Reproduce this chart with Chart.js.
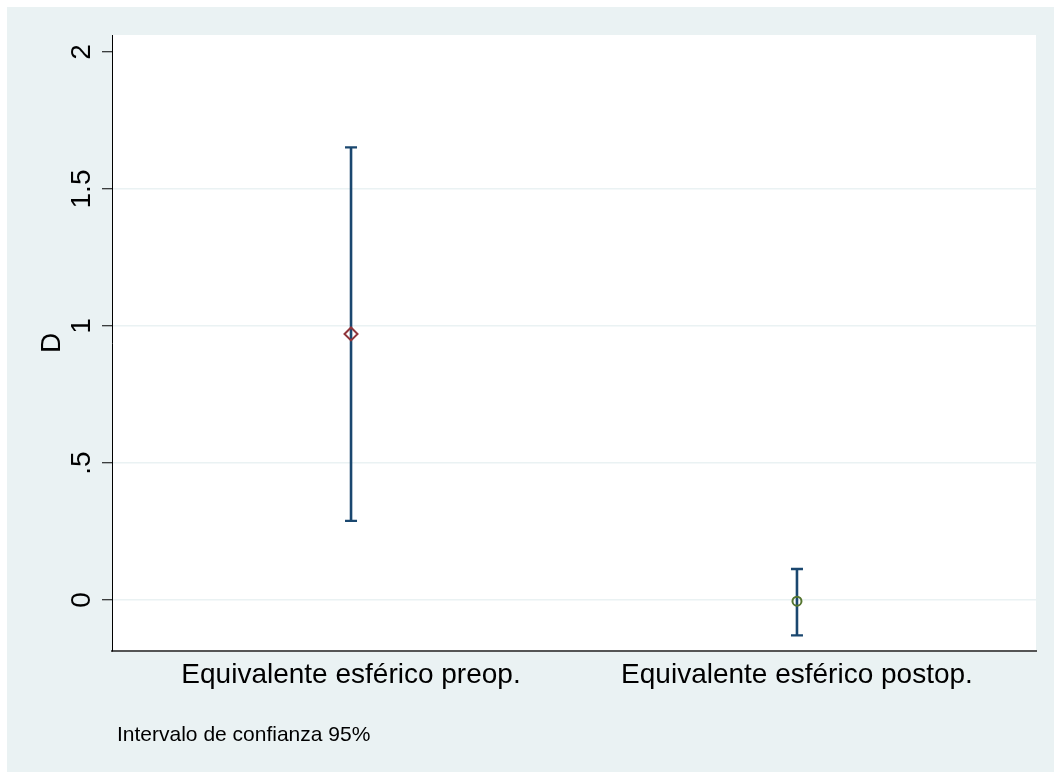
<!DOCTYPE html>
<html>
<head>
<meta charset="utf-8">
<script src="https://cdn.jsdelivr.net/npm/chart.js@4.4.1/dist/chart.umd.min.js"></script>
<style>
  html, body { margin: 0; padding: 0; background: #ffffff; overflow: hidden; }
  #wrap { position: absolute; left: 7px; top: 7px; width: 1047px; height: 765px; background: #eaf2f3; }
  canvas { display: block; }
</style>
</head>
<body>
<div id="wrap"><canvas id="c" width="1047" height="765"></canvas></div>
<script>
// ---- data ----
const categories = ["Equivalente esférico preop.", "Equivalente esférico postop."];
const categoryPositions = [1, 2];
const means = [0.971, -0.004];
const upperCI = [1.652, 0.113];
const lowerCI = [0.289, -0.129];
const yTickValues = [0, 0.5, 1, 1.5, 2];
const yTickLabels = ["0", ".5", "1", "1.5", "2"];
const yTitle = "D";
const footnote = "Intervalo de confianza 95%";

const FONT = "'Liberation Sans', Arial, sans-serif";
const barColor = "#1a476f";

const plotBg = {
  id: 'plotBg',
  beforeDraw(chart) {
    const {ctx, chartArea: a} = chart;
    ctx.save();
    ctx.fillStyle = '#ffffff';
    ctx.fillRect(a.left, a.top, a.right - a.left, a.bottom - a.top);
    ctx.restore();
  }
};

const errorBars = {
  id: 'errorBars',
  beforeDatasetsDraw(chart) {
    const {ctx, scales: {x, y}} = chart;
    ctx.save();
    ctx.strokeStyle = barColor;
    ctx.lineCap = 'butt';
    for (let i = 0; i < categoryPositions.length; i++) {
      const px = x.getPixelForValue(categoryPositions[i]);
      const yu = y.getPixelForValue(upperCI[i]);
      const yl = y.getPixelForValue(lowerCI[i]);
      ctx.lineWidth = 2.6;
      ctx.beginPath();
      ctx.moveTo(px, yu); ctx.lineTo(px, yl);
      ctx.stroke();
      ctx.lineWidth = 2.4;
      ctx.beginPath();
      ctx.moveTo(px - 6, yu); ctx.lineTo(px + 6, yu);
      ctx.moveTo(px - 6, yl); ctx.lineTo(px + 6, yl);
      ctx.stroke();
    }
    ctx.restore();
  }
};

const rotatedYTicks = {
  id: 'rotatedYTicks',
  afterDraw(chart) {
    const {ctx, scales: {y}} = chart;
    ctx.save();
    ctx.fillStyle = '#000000';
    ctx.font = "28px " + FONT;
    ctx.textAlign = 'center';
    ctx.textBaseline = 'middle';
    y.ticks.forEach((t) => {
      const py = y.getPixelForValue(t.value);
      ctx.save();
      ctx.translate(75, py);
      ctx.rotate(-Math.PI / 2);
      ctx.fillText(yTickLabels[yTickValues.indexOf(t.value)], 0, 0);
      ctx.restore();
    });
    ctx.font = "21px " + FONT;
    ctx.textAlign = 'left';
    ctx.textBaseline = 'alphabetic';
    ctx.fillText(footnote, 110, 734);
    ctx.restore();
  }
};

new Chart(document.getElementById('c'), {
  type: 'scatter',
  data: {
    datasets: [
      {
        data: [{x: categoryPositions[0], y: means[0]}],
        pointStyle: 'rectRot',
        pointRadius: 6.5,
        pointHoverRadius: 6.5,
        borderColor: '#90353b',
        backgroundColor: 'rgba(0,0,0,0)',
        borderWidth: 2
      },
      {
        data: [{x: categoryPositions[1], y: means[1]}],
        pointStyle: 'circle',
        pointRadius: 4.5,
        pointHoverRadius: 4.5,
        borderColor: '#55752f',
        backgroundColor: 'rgba(0,0,0,0)',
        borderWidth: 2
      }
    ]
  },
  options: {
    responsive: false,
    animation: false,
    events: [],
    layout: { padding: { top: 28, right: 18, left: 0, bottom: 0 } },
    plugins: {
      legend: { display: false },
      tooltip: { enabled: false }
    },
    scales: {
      x: {
        type: 'linear',
        min: 0.464,
        max: 2.536,
        afterBuildTicks(s) { s.ticks = categoryPositions.map(v => ({value: v})); },
        afterFit(s) { s.height = 121; },
        grid: { display: false, drawTicks: false },
        border: { display: true, color: '#555555', width: 2 },
        ticks: {
          autoSkip: false,
          maxRotation: 0,
          minRotation: 0,
          padding: 7,
          color: '#000000',
          font: { family: FONT, size: 28 },
          callback: (v) => categories[categoryPositions.indexOf(v)] || ''
        }
      },
      y: {
        type: 'linear',
        min: -0.186,
        max: 2.062,
        afterBuildTicks(s) { s.ticks = yTickValues.map(v => ({value: v})); },
        afterFit(s) { s.width = 105; },
        grid: {
          color: (c) => (c.tick && c.tick.value < 2) ? '#eaf2f3' : 'rgba(0,0,0,0)',
          lineWidth: 1.5,
          drawTicks: true,
          tickLength: 10,
          tickColor: '#000000',
          tickWidth: 1
        },
        border: { display: true, color: '#000000', width: 1 },
        ticks: {
          color: 'rgba(0,0,0,0)',
          font: { family: FONT, size: 26 },
          callback: (v) => yTickLabels[yTickValues.indexOf(v)] || ''
        },
        title: {
          display: true,
          text: yTitle,
          color: '#000000',
          font: { family: FONT, size: 28 },
          padding: { top: 28, bottom: 0 }
        }
      }
    }
  },
  plugins: [plotBg, errorBars, rotatedYTicks]
});
</script>
</body>
</html>
